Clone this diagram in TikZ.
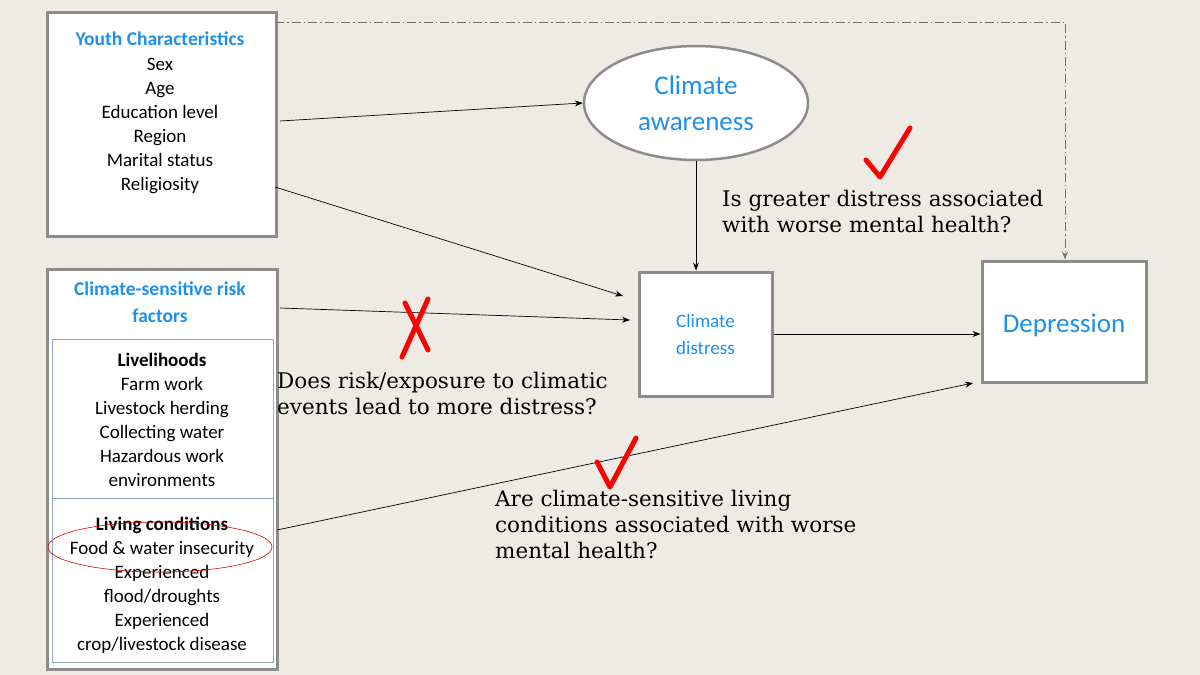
\documentclass[tikz,border=0pt]{standalone}
\usepackage{fontspec}
\setmainfont{DejaVu Serif}
\newfontfamily\bodyfont{Carlito}
\usetikzlibrary{arrows.meta,shapes.geometric}
\definecolor{bg}{HTML}{EEEBE4}
\definecolor{ttl}{HTML}{1E90E8}
\definecolor{bx}{HTML}{8C8C8C}
\definecolor{inb}{HTML}{8FA6C8}
\begin{document}
\begin{tikzpicture}[x=1pt,y=-1pt,
  outer/.style={draw=bx,line width=3pt,fill=white},
  inner/.style={draw=inb,line width=0.8pt,fill=white},
  lbl/.style={font=\bodyfont\fontsize{19}{24}\selectfont,align=center,inner sep=0},
  ttl/.style={lbl,text=ttl,font=\bodyfont\bfseries\fontsize{19.5}{27}\selectfont},
  q/.style={font=\fontsize{21.5}{26}\selectfont,align=left,inner sep=0,anchor=north west},
  arr/.style={-{Stealth[length=8pt,width=6pt]},line width=0.7pt},
  redmark/.style={red,line width=5pt,line cap=round,line join=round}]
\fill[bg] (0,0) rectangle (1200,675);
\useasboundingbox (0,0) rectangle (1200,675);
% Youth box
\node[outer,minimum width=229,minimum height=224,anchor=north west] (youth) at (46,11) {};
\node[ttl] (yt) at (160,39) {Youth Characteristics};
\node[lbl,anchor=north] (yl) at (160,58) {Sex\\Age\\Education level\\Region\\Marital status\\Religiosity};
% Risk box
\node[outer,minimum width=230,minimum height=400,anchor=north west] (risk) at (46,268) {};
\node[ttl] (rt) at (160,302) {Climate-sensitive risk\\factors};
\node[inner,minimum width=221,minimum height=159,anchor=north west] (liv) at (52,339) {};
\node[inner,minimum width=221,minimum height=164,anchor=north west] (lc) at (52,498) {};
\node[lbl,anchor=north] (livt) at (162,353) {\textbf{Livelihoods}\\Farm work\\Livestock herding\\Collecting water\\Hazardous work\\environments};
\node[lbl,anchor=north] (lct) at (162,517) {\textbf{Living conditions}\\Food \& water insecurity\\Experienced\\flood/droughts\\Experienced\\crop/livestock disease};
\node[draw=red!85!black,line width=0.6pt,ellipse,minimum width=224,minimum height=50] (food) at (160,547) {};
% Awareness
\node[ellipse,draw=bx,line width=2.5pt,fill=white,minimum width=224,minimum height=114,align=center,
  font=\bodyfont\fontsize{27}{36}\selectfont,text=ttl] (aw) at (696,103) {Climate\\awareness};
% Distress
\node[outer,minimum width=133,minimum height=124,align=center,font=\bodyfont\fontsize{19}{27}\selectfont,text=ttl] (cd) at (705.5,334) {Climate\\distress};
% Depression
\node[outer,minimum width=164,minimum height=121,font=\bodyfont\fontsize{27}{30}\selectfont,text=ttl,text depth=0pt] (dep) at (1064,321.5) {\raisebox{-4pt}{Depression}};
% arrows
\coordinate (a1) at (280,121);
\coordinate (a2) at (275,187);
\coordinate (a3) at (280,308);
\coordinate (a4) at (277,530);
\coordinate (d1) at (275,22);
\coordinate (d2) at (1065,22);
\draw[arr] (a1) -- (aw.west);
\draw[arr] (a2) -- (623,296);
\draw[arr] (a3) -- (630,320);
\draw[arr] (aw.south) -- (cd.north -| aw.south);
\draw[arr] (cd.east) -- (dep.west |- cd.east);
\draw[arr] (a4) -- (973,383);
\draw[arr,draw=bx!80!black,line width=0.8pt,dash pattern=on 9pt off 3pt on 1.5pt off 3pt] (d1) -- (d2) -- (dep.north -| d2);
% questions
\node[q] (q1) at (722,190) {Is greater distress associated\\with worse mental health?};
\node[q] (q2) at (277,372) {Does risk/exposure to climatic\\events lead to more distress?};
\node[q] (q3) at (495,490) {Are climate-sensitive living\\conditions associated with worse\\mental health?};
% marks
\draw[redmark] (866,160) -- (880,177) -- (910,128);
\draw[redmark] (597,462) -- (610,487) -- (636,438);
\draw[redmark] (405,303) -- (428,350);
\draw[redmark] (428,299) -- (402,357);
\end{tikzpicture}
\end{document}
